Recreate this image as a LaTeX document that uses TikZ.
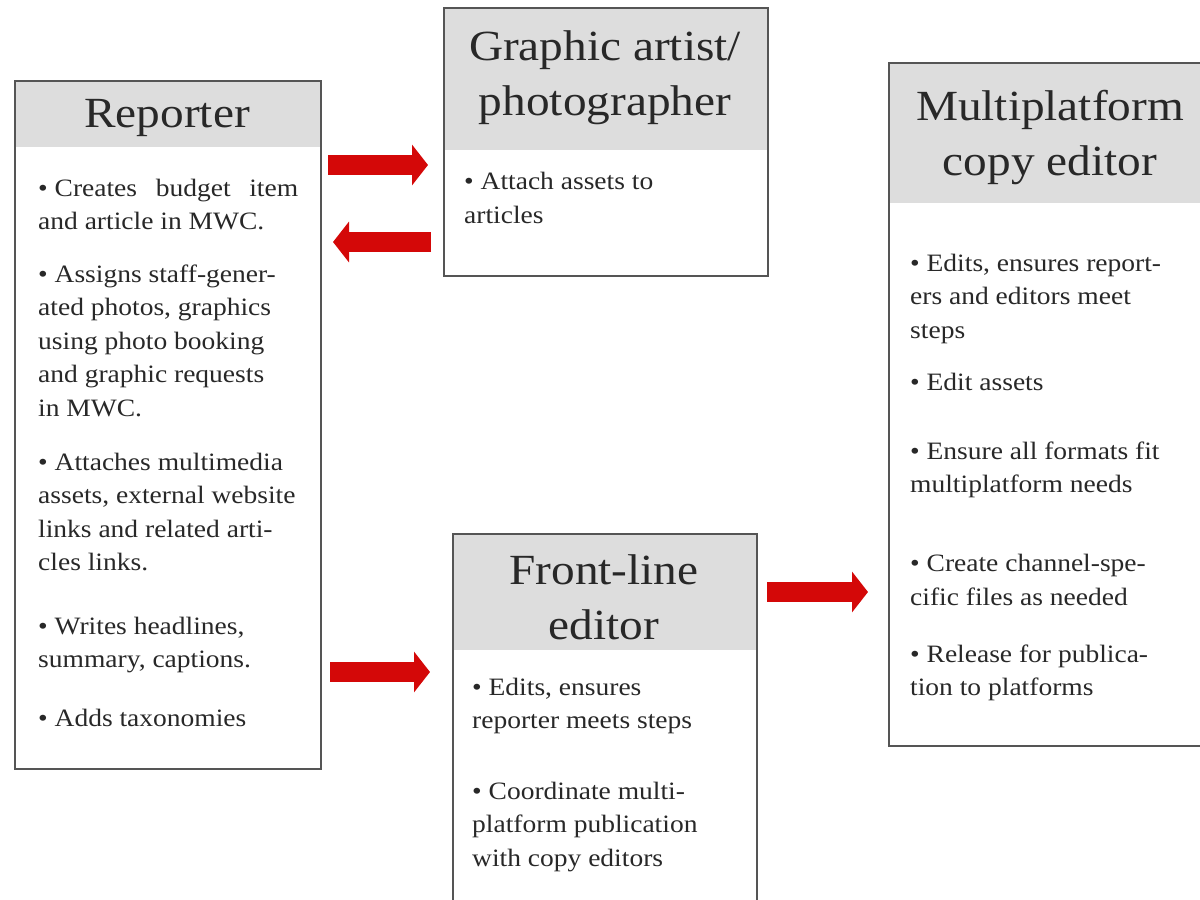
\documentclass[tikz,border=0pt]{standalone}
\usepackage{fontspec}
\setmainfont[FakeStretch=1.1]{Liberation Serif}
\usetikzlibrary{arrows.meta}
\definecolor{boxline}{RGB}{85,85,85}
\definecolor{headgray}{RGB}{221,221,221}
\definecolor{txt}{RGB}{40,40,40}
\definecolor{arrowred}{RGB}{212,8,8}
\tikzset{
  boxframe/.style={draw=boxline, line width=1.6pt, fill=none, inner sep=0pt, anchor=north west},
  headbar/.style={fill=headgray, draw=none, inner sep=0pt, anchor=north west},
  titletext/.style={text=txt, align=center, inner sep=0pt, font=\fontsize{43}{55}\selectfont},
  bodytext/.style={text=txt, align=left, inner sep=0pt, anchor=base west, font=\fontsize{25}{33.5}\selectfont},
  blockarrow/.style={draw=arrowred, line width=20pt, -{Triangle[length=16pt,width=40pt]}}
}
\begin{document}
\begin{tikzpicture}[x=1pt,y=-1pt]
\useasboundingbox (0,0) rectangle (1200,900);
\clip (0,0) rectangle (1200,900);
\fill[white] (0,0) rectangle (1200,900);

% Reporter  (body nodes are placed at the baseline of their last line)
\node[headbar, minimum width=306pt, minimum height=67pt] (rephead) at (14,80) {};
\node[boxframe, minimum width=306pt, minimum height=688pt] (rep) at (14,80) {};
\node[titletext] (reptitle) at (167,118) {Reporter};
\node[bodytext] (rep1) at (38,229.5) {\makebox[260pt][s]{•\ Creates\hfil budget\hfil item}\\and article in MWC.};
\node[bodytext] (rep2) at (38,416) {• Assigns staff-gener-\\ated photos, graphics\\using photo booking\\and graphic requests\\in MWC.};
\node[bodytext] (rep3) at (38,570.5) {• Attaches multimedia\\assets, external website\\links and related arti-\\cles links.};
\node[bodytext] (rep4) at (38,667.5) {• Writes headlines,\\summary, captions.};
\node[bodytext] (rep5) at (38,726) {• Adds taxonomies};

% Graphic artist
\node[headbar, minimum width=324pt, minimum height=143pt] (grahead) at (443,7) {};
\node[boxframe, minimum width=324pt, minimum height=268pt] (gra) at (443,7) {};
\node[titletext] (gratitle) at (605,78) {Graphic artist/\\photographer};
\node[bodytext] (gra1) at (464,223) {• Attach assets to\\articles};

% Multiplatform copy editor
\node[headbar, minimum width=340pt, minimum height=141pt] (mulhead) at (888,62) {};
\node[boxframe, minimum width=340pt, minimum height=683pt] (mul) at (888,62) {};
\node[titletext] (multitle) at (1050,137) {Multiplatform\\copy editor};
\node[bodytext] (mul1) at (910,338) {• Edits, ensures report-\\ers and editors meet\\steps};
\node[bodytext] (mul2) at (910,390) {• Edit assets};
\node[bodytext] (mul3) at (910,492.5) {• Ensure all formats fit\\multiplatform needs};
\node[bodytext] (mul4) at (910,605) {• Create channel-spe-\\cific files as needed};
\node[bodytext] (mul5) at (910,695.5) {• Release for publica-\\tion to platforms};

% Front-line editor
\node[headbar, minimum width=304pt, minimum height=117pt] (frohead) at (452,533) {};
\node[boxframe, minimum width=304pt, minimum height=420pt] (fro) at (452,533) {};
\node[titletext] (frotitle) at (604,597) {Front-line\\editor};
\node[bodytext] (fro1) at (472,728.5) {• Edits, ensures\\reporter meets steps};
\node[bodytext] (fro2) at (472,866) {• Coordinate multi-\\platform publication\\with copy editors};

% Arrows
\coordinate (a1s) at (328,165);
\coordinate (a1e) at (428,165);
\coordinate (a2s) at (431,242);
\coordinate (a2e) at (333,242);
\coordinate (a3s) at (330,672);
\coordinate (a3e) at (430,672);
\coordinate (a4s) at (767,592);
\coordinate (a4e) at (868,592);
\draw[blockarrow] (a1s) -- (a1e);
\draw[blockarrow] (a2s) -- (a2e);
\draw[blockarrow] (a3s) -- (a3e);
\draw[blockarrow] (a4s) -- (a4e);
\end{tikzpicture}
\end{document}
